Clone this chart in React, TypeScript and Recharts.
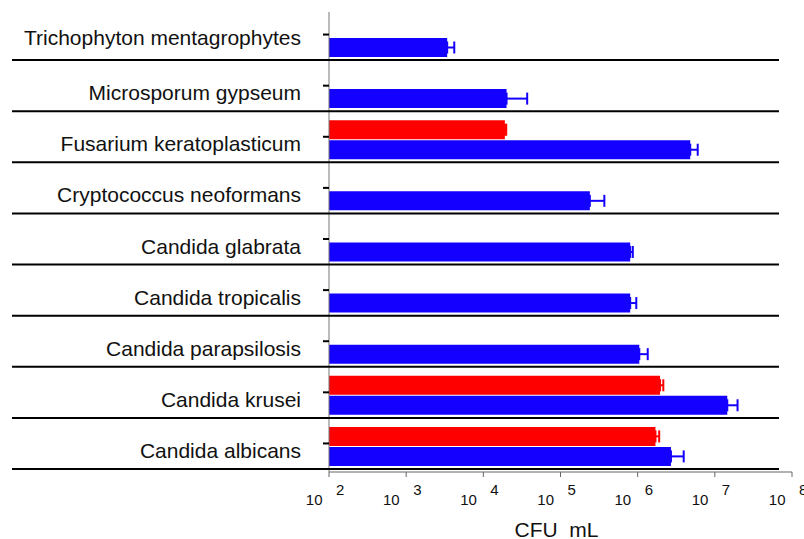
import { Bar, BarChart, ErrorBar, XAxis, YAxis } from "recharts"

const categories = [
  "Trichophyton mentagrophytes",
  "Microsporum gypseum",
  "Fusarium keratoplasticum",
  "Cryptococcus neoformans",
  "Candida glabrata",
  "Candida tropicalis",
  "Candida parapsilosis",
  "Candida krusei",
  "Candida albicans",
]
const redValues = [null, null, 19000, null, null, null, null, 1950000, 1700000]
const redErrors = [null, null, 800, null, null, null, null, 200000, 200000]
const blueValues = [3400, 20000, 4800000, 240000, 800000, 800000, 1050000, 14500000, 2700000]
const blueErrors = [800, 17000, 1200000, 130000, 65000, 160000, 300000, 5200000, 1250000]
const xTicks = [1e2, 1e3, 1e4, 1e5, 1e6, 1e7, 1e8]

const FONT = '"Liberation Sans", Arial, sans-serif'
const RED = "#ff0000"
const BLUE = "#1400ff"

const data = categories.map((name, i) => ({
  name,
  red: redValues[i],
  redErr: redErrors[i] == null ? null : [0, redErrors[i]],
  blue: blueValues[i],
  blueErr: [0, blueErrors[i]],
}))

function CategoryTick(props: any) {
  const { x, y, payload, index } = props
  const half = payload?.offset ?? 25.5
  return (
    <g>
      <line x1={x - 6} x2={x} y1={y - 3} y2={y - 3} stroke="#000" strokeWidth={2} />
      <line x1={12} x2={779} y1={y + half - 3} y2={y + half - 3} stroke="#000" strokeWidth={2} />
      <text
        x={x - 28}
        y={y + (index === 0 ? 7.5 : 11.5)}
        textAnchor="end"
        fontFamily={FONT}
        fontSize={21}
        fill="#111"
      >
        {payload.value}
      </text>
    </g>
  )
}

function PowerTick(props: any) {
  const { x, y, payload } = props
  const exp = Math.round(Math.log10(payload.value))
  return (
    <g fontFamily={FONT} fill="#111">
      <text x={x - 6.5} y={y + 28} textAnchor="end" fontSize={15}>
        10
      </text>
      <text x={x + 7} y={y + 18} textAnchor="start" fontSize={15}>
        {exp}
      </text>
    </g>
  )
}

export default function App() {
  return (
    <div style={{ position: "absolute", left: 0, top: 0, background: "#fff" }}>
      <BarChart
        width={804}
        height={539}
        data={data}
        layout="vertical"
        barSize={19}
        barGap={1}
        margin={{ top: 12, right: 12, left: 0, bottom: 0 }}
      >
        <XAxis
          type="number"
          scale="log"
          domain={[100, 1e8]}
          ticks={xTicks}
          interval={0}
          allowDataOverflow
          height={67}
          stroke="#666"
          tickSize={5}
          tickMargin={0}
          tick={<PowerTick />}
          label={({ viewBox }: any) => (
            <text
              x={viewBox.x + viewBox.width / 2 - 4}
              y={viewBox.y + 65}
              textAnchor="middle"
              fontFamily={FONT}
              fontSize={21}
              fill="#111"
              style={{ whiteSpace: "pre" }}
            >
              CFU  mL
            </text>
          )}
        />
        <YAxis
          type="category"
          dataKey="name"
          width={329}
          stroke="#777"
          tickLine={false}
          tickSize={0}
          tickMargin={0}
          interval={0}
          tick={<CategoryTick />}
        />
        <Bar dataKey="red" fill={RED} isAnimationActive={false}>
          <ErrorBar dataKey="redErr" direction="x" stroke={RED} strokeWidth={2} width={6} />
        </Bar>
        <Bar dataKey="blue" fill={BLUE} isAnimationActive={false}>
          <ErrorBar dataKey="blueErr" direction="x" stroke={BLUE} strokeWidth={2} width={6} />
        </Bar>
      </BarChart>
    </div>
  )
}
